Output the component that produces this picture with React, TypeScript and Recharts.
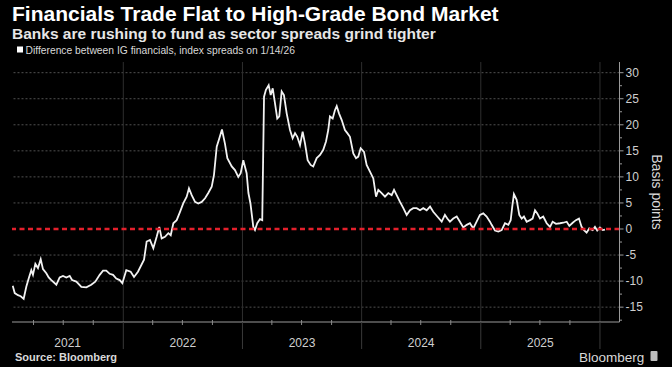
import { LineChart, Line, XAxis, YAxis, ReferenceLine } from "recharts";

// dates as decimal years
const dates = [
  2021.072, 2021.089, 2021.116, 2021.139, 2021.164, 2021.186, 2021.206, 2021.228, 2021.242, 2021.262,
  2021.284, 2021.307, 2021.326, 2021.354, 2021.374, 2021.396, 2021.438, 2021.466, 2021.494, 2021.522,
  2021.55, 2021.57, 2021.606, 2021.648, 2021.69, 2021.731, 2021.765, 2021.802, 2021.83, 2021.857,
  2021.886, 2021.914, 2021.941, 2021.97, 2021.992, 2022.025, 2022.062, 2022.09, 2022.123, 2022.174,
  2022.196, 2022.224, 2022.252, 2022.28, 2022.302, 2022.322, 2022.35, 2022.378, 2022.398, 2022.42,
  2022.448, 2022.476, 2022.503, 2022.532, 2022.551, 2022.574, 2022.602, 2022.629, 2022.658, 2022.686,
  2022.713, 2022.742, 2022.761, 2022.784, 2022.806, 2022.828, 2022.853, 2022.873, 2022.91, 2022.937,
  2022.965, 2022.985, 2023.007, 2023.035, 2023.05, 2023.067, 2023.091, 2023.105, 2023.124, 2023.147,
  2023.166, 2023.181, 2023.197, 2023.22, 2023.237, 2023.254, 2023.273, 2023.292, 2023.309, 2023.329,
  2023.348, 2023.371, 2023.399, 2023.421, 2023.441, 2023.46, 2023.483, 2023.505, 2023.525, 2023.547,
  2023.572, 2023.594, 2023.623, 2023.651, 2023.678, 2023.701, 2023.72, 2023.734, 2023.757, 2023.776,
  2023.791, 2023.81, 2023.833, 2023.86, 2023.88, 2023.902, 2023.93, 2023.953, 2023.972, 2023.992,
  2024.02, 2024.042, 2024.07, 2024.098, 2024.121, 2024.14, 2024.168, 2024.196, 2024.224, 2024.252,
  2024.272, 2024.294, 2024.322, 2024.35, 2024.378, 2024.406, 2024.433, 2024.462, 2024.49, 2024.517,
  2024.546, 2024.574, 2024.601, 2024.635, 2024.672, 2024.699, 2024.719, 2024.741, 2024.769, 2024.798,
  2024.825, 2024.853, 2024.882, 2024.909, 2024.937, 2024.965, 2024.993, 2025.021, 2025.049, 2025.077,
  2025.091, 2025.119, 2025.147, 2025.175, 2025.203, 2025.231, 2025.251, 2025.264, 2025.278, 2025.301,
  2025.323, 2025.343, 2025.362, 2025.385, 2025.413, 2025.435, 2025.455, 2025.474, 2025.497, 2025.524,
  2025.553, 2025.581, 2025.603, 2025.631, 2025.665, 2025.692, 2025.721, 2025.743, 2025.771, 2025.798,
  2025.824, 2025.846, 2025.866, 2025.888, 2025.91, 2025.939, 2025.958, 2025.977, 2026.0, 2026.023,
  2026.042,
];

// IG financials minus index spread, basis points
const spreads = [
  -10.9, -12.3, -12.7, -12.9, -13.4, -11.1, -9.5, -7.9, -8.8, -6.7,
  -7.5, -5.8, -7.7, -8.5, -9.3, -9.8, -10.7, -9.3, -9.0, -9.3,
  -9.0, -9.8, -10.1, -11.1, -11.2, -10.7, -10.1, -8.8, -8.0, -8.0,
  -8.6, -8.8, -9.5, -9.8, -10.4, -7.9, -8.2, -9.2, -8.2, -5.9,
  -2.4, -2.1, -3.7, -1.5, 0.4, -1.8, -1.5, -0.8, -1.2, 1.1,
  1.7, 3.3, 4.9, 6.2, 7.8, 6.5, 5.2, 4.9, 5.2, 5.9,
  6.9, 8.1, 10.4, 15.8, 17.4, 19.1, 16.4, 13.6, 12.0, 11.3,
  10.0, 10.7, 13.2, 10.7, 6.9, 4.9, 0.4, -0.2, 1.1, 1.9,
  1.7, 25.4, 26.7, 27.6, 25.7, 27.0, 24.1, 21.2, 21.6, 26.4,
  25.7, 22.2, 19.0, 17.4, 18.4, 17.7, 16.1, 18.7, 16.4, 13.2,
  12.3, 12.0, 13.6, 14.2, 15.2, 16.8, 19.0, 21.6, 21.2, 22.8,
  23.6, 22.2, 20.9, 19.0, 18.4, 17.7, 14.5, 13.6, 13.9, 15.5,
  14.8, 12.3, 11.0, 9.7, 6.2, 7.5, 6.9, 6.2, 6.9, 6.5,
  7.5, 6.5, 5.2, 4.0, 2.7, 3.6, 4.0, 4.0, 3.6, 4.0,
  3.6, 4.3, 3.3, 2.4, 1.4, 2.7, 2.0, 1.4, 2.0, 2.4,
  1.4, 0.3, 0.8, 1.1, 0.1, 1.4, 2.7, 3.0, 2.4, 1.4,
  0.8, -0.3, -0.5, -0.2, 1.1, 0.8, 1.7, 4.3, 6.7, 5.6,
  2.7, 2.0, 2.4, 1.4, 1.7, 2.0, 3.6, 3.0, 2.0, 2.4,
  1.1, 0.4, 1.4, 1.0, 1.1, 1.2, 1.4, 0.6, 1.2, 1.7,
  2.0, 0.4, -0.2, -0.7, 0.1, -0.2, 0.4, -0.3, 0.3, -0.2,
  -0.1,
];

const yearLabels = ["2021", "2022", "2023", "2024", "2025"];
const yearStarts = [2022, 2023, 2024, 2025, 2026];
const gridValues = [-15, -10, -5, 5, 10, 15, 20, 25, 30];

const X_DOMAIN: [number, number] = [2021.066, 2026.164];
const Y_DOMAIN: [number, number] = [-17.85, 32.05];

const data = dates.map((t, i) => ({ t, v: spreads[i] }));

// year label sits in the middle of the visible part of each year
const labelTicks = yearLabels.map((y) => {
  const a = Math.max(Number(y), X_DOMAIN[0]);
  return (a + Number(y) + 1) / 2;
});
const quarterTicks: number[] = [];
[2021, 2022, 2023, 2024, 2025].forEach((y) => {
  [0.2466, 0.4959, 0.7479].forEach((q) => quarterTicks.push(y + q));
});
const xTicks = [...yearStarts, ...labelTicks, ...quarterTicks];

const yTicks: number[] = [];
for (let v = -17.5; v <= 30; v += 2.5) yTicks.push(v);

const FONT = "'Liberation Sans', Arial, sans-serif";

const XTick = (props: any) => {
  const { x, y, payload } = props;
  const v = payload.value;
  if (yearStarts.includes(v)) {
    return <line x1={x} x2={x} y1={y} y2={y + 27} stroke="#3a3a3a" />;
  }
  const idx = labelTicks.indexOf(v);
  if (idx >= 0) {
    return (
      <text x={x} y={y + 25} textAnchor="middle" fill="#cfcfcf" fontSize={12} fontFamily={FONT}>
        {yearLabels[idx]}
      </text>
    );
  }
  return <line x1={x} x2={x} y1={y - 2} y2={y + 3} stroke="#8a8a8a" />;
};

const YTick = (props: any) => {
  const { x, y, payload } = props;
  const v = payload.value;
  const major = v % 5 === 0;
  return (
    <g>
      <line x1={x} x2={x + (major ? 4 : 2.5)} y1={y} y2={y} stroke="#9a9a9a" />
      {major && (
        <text x={x + 6} y={y + 4} fill="#cfcfcf" fontSize={12} fontFamily={FONT}>
          {v}
        </text>
      )}
    </g>
  );
};

export default function App() {
  return (
    <div
      style={{
        position: "absolute",
        left: 0,
        top: 0,
        width: 672,
        height: 367,
        background: "#000",
        overflow: "hidden",
        fontFamily: FONT,
      }}
    >
      <LineChart
        width={672}
        height={367}
        data={data}
        margin={{ top: 62, right: 0, left: 12, bottom: 0 }}
      >
        {gridValues.map((g) => (
          <ReferenceLine key={`g${g}`} y={g} stroke="#505050" strokeDasharray="2 2" />
        ))}
        {yearStarts.map((y) => (
          <ReferenceLine key={`y${y}`} x={y} stroke="#2e2e2e" />
        ))}
        <XAxis
          dataKey="t"
          type="number"
          domain={X_DOMAIN}
          allowDataOverflow
          ticks={xTicks}
          interval={0}
          height={45}
          tickSize={0}
          tickMargin={0}
          tickLine={false}
          axisLine={{ stroke: "#9a9a9a" }}
          tick={XTick}
        />
        <YAxis
          orientation="right"
          type="number"
          domain={Y_DOMAIN}
          allowDataOverflow
          ticks={yTicks}
          interval={0}
          width={52.5}
          tickSize={0}
          tickMargin={0}
          tickLine={false}
          axisLine={{ stroke: "#9a9a9a" }}
          tick={YTick}
        />
        <Line
          type="linear"
          dataKey="v"
          stroke="#f2f2f2"
          strokeWidth={1.8}
          dot={false}
          isAnimationActive={false}
        />
        <ReferenceLine y={0} stroke="#e3202c" strokeWidth={2.5} strokeDasharray="5 3.5" />
      </LineChart>

      <svg
        width={672}
        height={367}
        style={{ position: "absolute", left: 0, top: 0, pointerEvents: "none" }}
      >
        <text x={12} y={20.5} fill="#fff" fontSize={21} fontWeight="bold" fontFamily={FONT}>
          Financials Trade Flat to High-Grade Bond Market
        </text>
        <text x={12} y={39} fill="#e6e6e6" fontSize={15.5} fontWeight="bold" fontFamily={FONT}>
          Banks are rushing to fund as sector spreads grind tighter
        </text>
        <rect x={17} y={46.5} width={6} height={6} fill="#fff" />
        <text x={25.5} y={54} fill="#d9d9d9" fontSize={10.3} fontFamily={FONT}>
          Difference between IG financials, index spreads on 1/14/26
        </text>
        <text
          transform="translate(652, 192) rotate(90)"
          textAnchor="middle"
          fill="#d9d9d9"
          fontSize={14}
          fontFamily={FONT}
        >
          Basis points
        </text>
        <text x={15} y={361} fill="#d9d9d9" fontSize={11} fontWeight="bold" fontFamily={FONT}>
          Source: Bloomberg
        </text>
        <text x={579} y={362} fill="#d9d9d9" fontSize={13.5} fontFamily={FONT}>
          Bloomberg
        </text>
        <rect x={650.5} y={351} width={7} height={10} rx={1} fill="#bdbdbd" />
      </svg>
    </div>
  );
}
